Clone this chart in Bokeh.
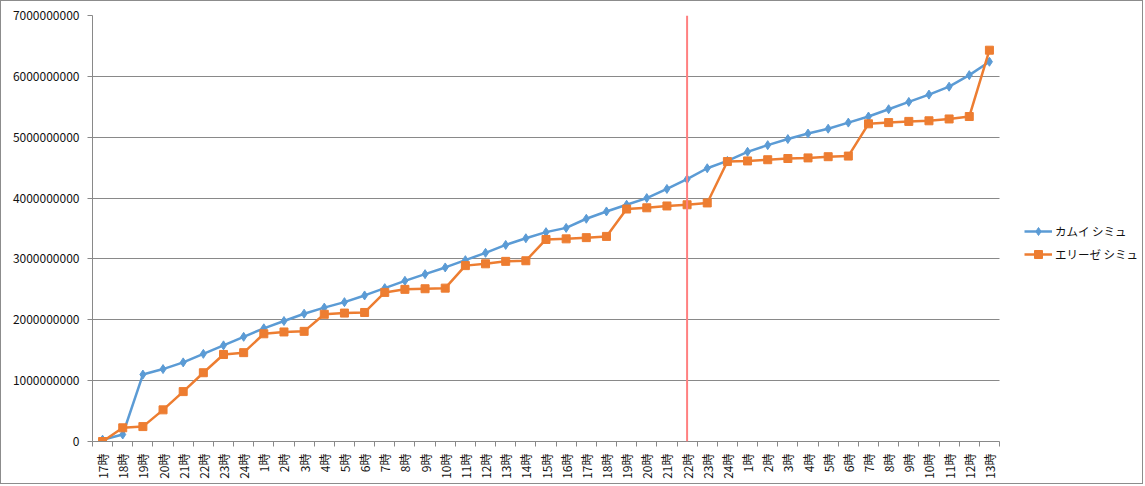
from bokeh.plotting import figure
from bokeh.models import (FixedTicker, Span, Legend, LegendItem, NumeralTickFormatter,
                          Range1d, BoxAnnotation)
from bokeh.embed import file_html
from bokeh.resources import INLINE

# ---- data ----
categories = ["17時", "18時", "19時", "20時", "21時", "22時", "23時", "24時",
              "1時", "2時", "3時", "4時", "5時", "6時", "7時", "8時", "9時", "10時",
              "11時", "12時", "13時", "14時", "15時", "16時", "17時", "18時", "19時",
              "20時", "21時", "22時", "23時", "24時",
              "1時", "2時", "3時", "4時", "5時", "6時", "7時", "8時", "9時", "10時",
              "11時", "12時", "13時"]
kamui = [0.03e9, 0.115e9, 1.10e9, 1.19e9, 1.30e9, 1.44e9, 1.58e9, 1.72e9, 1.86e9,
         1.98e9, 2.10e9, 2.20e9, 2.29e9, 2.40e9, 2.52e9, 2.64e9, 2.75e9, 2.86e9,
         2.98e9, 3.10e9, 3.23e9, 3.34e9, 3.44e9, 3.51e9, 3.66e9, 3.78e9, 3.89e9,
         4.00e9, 4.15e9, 4.31e9, 4.49e9, 4.61e9, 4.76e9, 4.87e9, 4.97e9, 5.06e9,
         5.14e9, 5.24e9, 5.34e9, 5.46e9, 5.58e9, 5.70e9, 5.83e9, 6.02e9, 6.24e9]
elise = [0.0, 0.225e9, 0.245e9, 0.52e9, 0.82e9, 1.13e9, 1.43e9, 1.46e9, 1.77e9,
         1.80e9, 1.81e9, 2.09e9, 2.11e9, 2.12e9, 2.45e9, 2.50e9, 2.51e9, 2.52e9,
         2.89e9, 2.92e9, 2.96e9, 2.97e9, 3.32e9, 3.33e9, 3.35e9, 3.37e9, 3.82e9,
         3.84e9, 3.87e9, 3.89e9, 3.92e9, 4.60e9, 4.61e9, 4.63e9, 4.65e9, 4.66e9,
         4.68e9, 4.69e9, 5.22e9, 5.24e9, 5.26e9, 5.27e9, 5.30e9, 5.34e9, 6.43e9]
series_names = ["カムイ シミュ", "エリーゼ シミュ"]
y_ticks = [0, 1e9, 2e9, 3e9, 4e9, 5e9, 6e9, 7e9]
marker_index = 29  # 22時 (red vertical line)

n = len(categories)
xs = list(range(n))

FONT = "Noto Sans CJK JP"
GRID = "#898989"

W, H = 1143, 484
LEFT, TOP, BOTTOM = 91, 14, 44
plot_w = 907.0                       # pixel width of the category area
x_end = -0.5 + n * (W - LEFT) / plot_w

p = figure(width=W, height=H, output_backend="svg", toolbar_location=None,
           x_range=Range1d(-0.5, x_end), y_range=Range1d(0, 7e9))
p.min_border_left = LEFT
p.min_border_right = 0
p.min_border_top = TOP
p.min_border_bottom = BOTTOM
p.outline_line_color = None
p.styles = {"border": "1px solid #8c8c8c"}

# x axis
p.xaxis.bounds = (-0.5, n - 0.5)
p.xaxis.ticker = FixedTicker(ticks=xs, minor_ticks=[i - 0.5 for i in range(n + 1)])
p.xaxis.major_label_overrides = {i: c for i, c in enumerate(categories)}
p.xaxis.major_label_orientation = 3.14159265 / 2
p.xaxis.major_tick_line_color = None
p.xaxis.minor_tick_line_color = GRID
p.xaxis.minor_tick_out = 5
p.xaxis.minor_tick_in = 0
p.xaxis.axis_line_color = GRID
p.xaxis.major_label_text_font = FONT
p.xaxis.major_label_text_font_size = "12px"
p.xaxis.major_label_text_color = "#111111"
p.xaxis.major_label_standoff = 6

# y axis
p.yaxis.ticker = FixedTicker(ticks=y_ticks)
p.yaxis.formatter = NumeralTickFormatter(format="0")
p.yaxis.axis_line_color = GRID
p.yaxis.major_tick_line_color = GRID
p.yaxis.major_tick_out = 5
p.yaxis.major_tick_in = 0
p.yaxis.minor_tick_line_color = None
p.yaxis.major_label_text_font = FONT
p.yaxis.major_label_text_font_size = "12px"
p.yaxis.major_label_text_color = "#111111"
p.yaxis.major_label_standoff = 8

p.xgrid.grid_line_color = None
p.ygrid.ticker = FixedTicker(ticks=y_ticks)
p.ygrid.grid_line_color = GRID
p.ygrid.grid_line_width = 1

# blank legend area to the right of the plot area (hides grid lines there)
p.add_layout(BoxAnnotation(left=n - 0.5, fill_color="white", fill_alpha=1,
                           line_color=None, level="underlay"))

# red vertical line
p.add_layout(Span(location=marker_index, dimension="height", line_color="#ff8080", line_width=2))

BLUE = "#5B9BD5"
ORANGE = "#ED7D31"
l1 = p.line(xs, kamui, line_color=BLUE, line_width=2.5)
m1 = p.scatter(xs, kamui, marker="diamond", size=9, fill_color=BLUE, line_color=BLUE)
l2 = p.line(xs, elise, line_color=ORANGE, line_width=2.5)
m2 = p.scatter(xs, elise, marker="square", size=8, fill_color=ORANGE, line_color=ORANGE)

legend = Legend(items=[LegendItem(label=series_names[0], renderers=[l1, m1]),
                       LegendItem(label=series_names[1], renderers=[l2, m2])],
                location=(932, 177))
legend.border_line_color = None
legend.background_fill_alpha = 0
legend.label_text_font = FONT
legend.label_text_font_size = "11.5px"
legend.label_text_color = "#111111"
legend.glyph_width = 28
legend.glyph_height = 20
legend.label_height = 20
legend.spacing = 3
legend.padding = 4
legend.label_standoff = 3
p.add_layout(legend)

open("out.html", "w").write(file_html(p, INLINE))
